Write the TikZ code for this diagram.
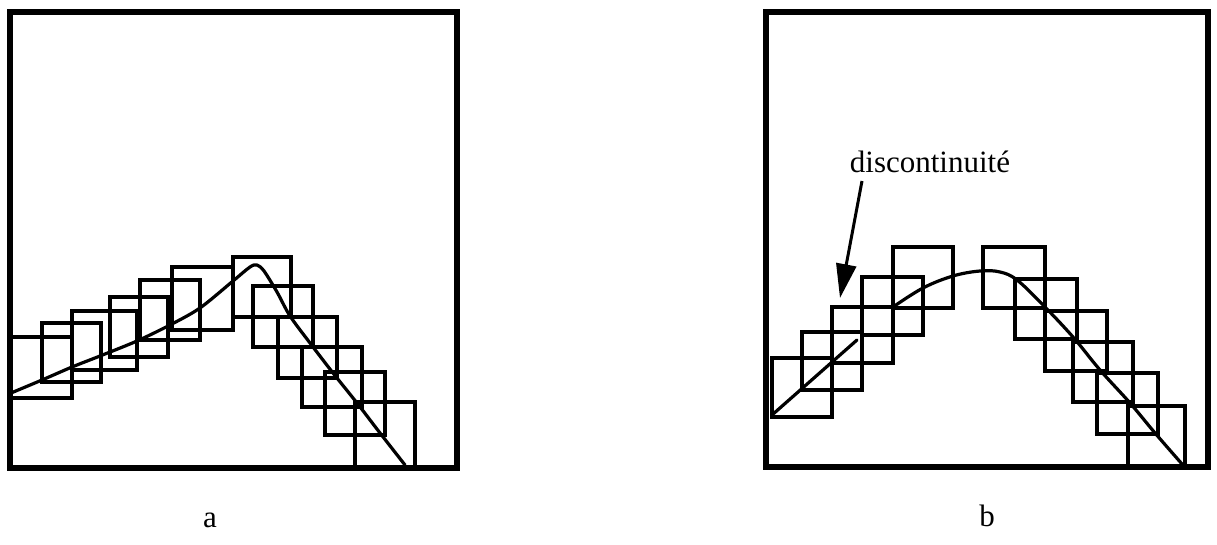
\documentclass[tikz,border=0pt]{standalone}
\usepackage{fontspec}
\setmainfont{Liberation Serif}
\usetikzlibrary{arrows.meta}

\begin{document}
\begin{tikzpicture}[x=0.5pt, y=-0.5pt, every node/.style={font=\fontsize{15.5}{18}\selectfont, inner sep=0pt}, >={Triangle[length=17pt, width=10pt]}, cadre/.style={line width=3pt}, carre/.style={line width=1.8pt}, profil/.style={line width=1.6pt, line join=round, line cap=round}]
	\useasboundingbox (0,0) rectangle (1217,545);
	% panneau a
	\begin{scope}
		\clip (10,12) rectangle (457,468);
		\foreach \xa/\ya/\xb/\yb in {8/337/72/398, 42/323/101/382, 72/311/137/370, 110/297/168/357, 140/280/200/340, 172/267/233/330, 233/257/291/317, 253/286/313/347, 278/317/337/378, 302/347/362/407, 325/372/385/435, 355/402/415/470} {\draw[carre] (\xa,\ya) rectangle (\xb,\yb);}
	\end{scope}
	\draw[profil] plot[smooth, tension=0.5] coordinates {(11,393) (42,380) (72,367) (100,356) (137,341) (170,325) (200,308) (233,281) (250,267) (257,265) (264,271) (277,292) (290,316) (310,343) (333,373) (357,403) (380,433) (405,465)};
	\draw[cadre] (10,12) rectangle (457,468);
	\node[anchor=base] (lblA) at (210,528) {a};
	% panneau b
	\begin{scope}
		\clip (766,12) rectangle (1208,467);
		\foreach \xa/\ya/\xb/\yb in {772/358/832/417, 802/332/862/390, 832/307/893/363, 862/277/923/335, 893/247/953/308, 983/247/1045/308, 1015/279/1077/339, 1045/311/1107/371, 1073/342/1133/402, 1097/373/1158/434, 1128/406/1185/470} {\draw[carre] (\xa,\ya) rectangle (\xb,\yb);}
	\end{scope}
	\draw[profil] (772,415) -- (857,340);
	\draw[profil] plot[smooth, tension=0.6] coordinates {(893,307) (923,288) (953,276) (980,271) (1000,272) (1017,280) (1043,305) (1073,337) (1100,370) (1130,403) (1155,433) (1182,464)};
	\draw[cadre] (766,12) rectangle (1208,467);
	\node[anchor=base] (disc) at (930,173) {discontinuit\'e};
	\coordinate (discQueue) at (862,181);
	\coordinate (discPointe) at (840,298);
	\draw[->, line width=1.5pt] (discQueue) -- (discPointe);
	\node[anchor=base] (lblB) at (987,527) {b};
\end{tikzpicture}
\end{document}
